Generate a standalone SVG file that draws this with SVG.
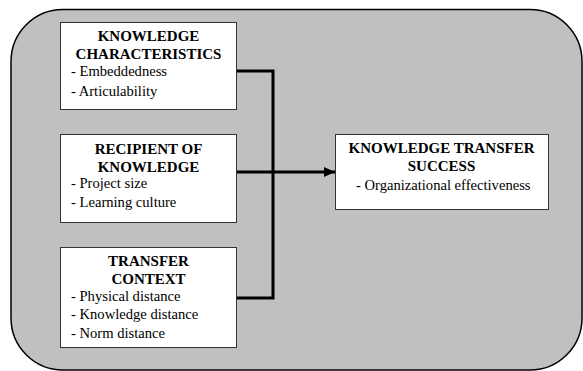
<svg xmlns="http://www.w3.org/2000/svg" width="583" height="371" viewBox="0 0 583 371">
<defs>
<style>
.box{fill:#fff;stroke:#333;stroke-width:1}
.t{font-size:15px;font-weight:bold;text-anchor:middle;fill:#000}
.i{font-size:14.6px;fill:#000}
.c{fill:none;stroke:#000;stroke-width:3}
</style>
<marker id="ah" markerWidth="11" markerHeight="10" refX="11" refY="5" orient="auto" markerUnits="userSpaceOnUse">
<path d="M0,0 L11,5 L0,10 Z" fill="#000"/>
</marker>
</defs>
<rect x="11" y="9.5" width="571" height="360.5" rx="52" ry="52" fill="#c0c0c0" stroke="#000" stroke-width="1.5"/>
<g id="connectors">
<polyline class="c" points="236,71 273,71 273,298 236,298"/>
<line class="c" x1="236" y1="172" x2="335" y2="172" marker-end="url(#ah)"/>
</g>
<g font-family="Liberation Serif, Times New Roman, DejaVu Serif, serif">
<g id="knowledge-characteristics">
<rect class="box" x="60.5" y="22.5" width="176" height="87"/>
<text class="t" x="148.5" y="40.5">KNOWLEDGE</text>
<text class="t" x="148.5" y="59">CHARACTERISTICS</text>
<text class="i" x="71" y="76">- Embeddedness</text>
<text class="i" x="71" y="95.5">- Articulability</text>
</g>
<g id="recipient-of-knowledge">
<rect class="box" x="60.5" y="134.5" width="176" height="88"/>
<text class="t" x="148.5" y="154">RECIPIENT OF</text>
<text class="t" x="148.5" y="171.5">KNOWLEDGE</text>
<text class="i" x="71" y="187.5">- Project size</text>
<text class="i" x="71" y="206.5">- Learning culture</text>
</g>
<g id="transfer-context">
<rect class="box" x="60.5" y="247.5" width="176" height="100"/>
<text class="t" x="148.5" y="266">TRANSFER</text>
<text class="t" x="148.5" y="284">CONTEXT</text>
<text class="i" x="71" y="300.5">- Physical distance</text>
<text class="i" x="71" y="319">- Knowledge distance</text>
<text class="i" x="71" y="338">- Norm distance</text>
</g>
<g id="knowledge-transfer-success">
<rect class="box" x="335.5" y="134.5" width="213" height="75"/>
<text class="t" x="441.5" y="153">KNOWLEDGE TRANSFER</text>
<text class="t" x="441.5" y="171">SUCCESS</text>
<text class="i" x="356" y="190">- Organizational effectiveness</text>
</g>
</g>
</svg>
